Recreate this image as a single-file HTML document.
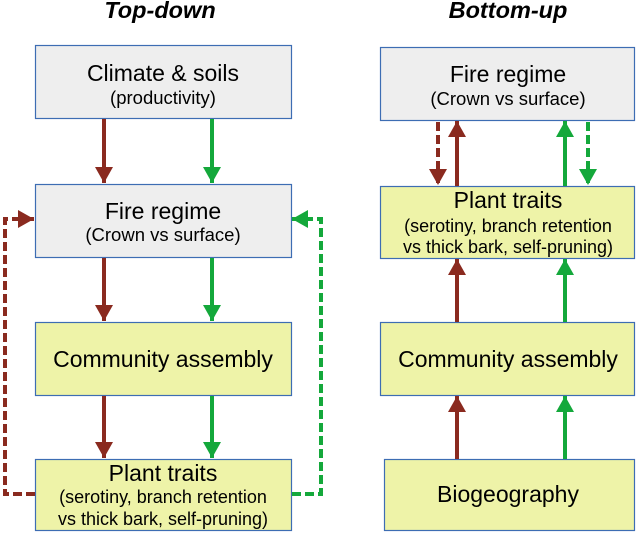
<!DOCTYPE html>
<html><head><style>
body{margin:0;background:#fff;width:640px;height:532px;overflow:hidden;font-family:"Liberation Sans",sans-serif}
</style></head><body>
<svg width="640" height="532" viewBox="0 0 640 532" xmlns="http://www.w3.org/2000/svg" font-family="Liberation Sans, sans-serif">
<defs>
<marker id="r" markerWidth="16" markerHeight="18" refX="16" refY="9" orient="auto" markerUnits="userSpaceOnUse" viewBox="0 0 16 18"><path d="M0,0 L16,9 L0,18z" fill="#8a2a1f"/></marker>
<marker id="g" markerWidth="16" markerHeight="18" refX="16" refY="9" orient="auto" markerUnits="userSpaceOnUse" viewBox="0 0 16 18"><path d="M0,0 L16,9 L0,18z" fill="#14a83b"/></marker>
</defs>
<text x="160" y="18" font-size="23.5" font-weight="bold" font-style="italic" text-anchor="middle">Top-down</text>
<text x="508" y="18" font-size="23.5" font-weight="bold" font-style="italic" text-anchor="middle">Bottom-up</text>
<g stroke="#3d6db3" stroke-width="1.2">
<rect x="35.5" y="45.5" width="256" height="73" fill="#eeeeee"/>
<rect x="35.5" y="184.5" width="256" height="73" fill="#eeeeee"/>
<rect x="35.5" y="322.5" width="256" height="73" fill="#eef3a8"/>
<rect x="35.5" y="459.5" width="256" height="71" fill="#eef3a8"/>
<rect x="380.5" y="47.5" width="254" height="73" fill="#eeeeee"/>
<rect x="380.5" y="186.5" width="254" height="72" fill="#eef3a8"/>
<rect x="380.5" y="322.5" width="254" height="73" fill="#eef3a8"/>
<rect x="384.5" y="459.5" width="250" height="71" fill="#eef3a8"/>
</g>
<g text-anchor="middle" fill="#000">
<text x="163" y="81" font-size="23">Climate &amp; soils</text>
<text x="163" y="104" font-size="18.5">(productivity)</text>
<text x="163" y="219" font-size="23">Fire regime</text>
<text x="163" y="241" font-size="18.5">(Crown vs surface)</text>
<text x="163" y="367" font-size="23">Community assembly</text>
<text x="163" y="481" font-size="23">Plant traits</text>
<text x="163" y="503" font-size="18">(serotiny, branch retention</text>
<text x="163" y="525" font-size="18">vs thick bark, self-pruning)</text>
<text x="508" y="82" font-size="23">Fire regime</text>
<text x="508" y="105" font-size="18.5">(Crown vs surface)</text>
<text x="508" y="208" font-size="23">Plant traits</text>
<text x="508" y="232" font-size="18">(serotiny, branch retention</text>
<text x="508" y="253" font-size="18">vs thick bark, self-pruning)</text>
<text x="508" y="367" font-size="23">Community assembly</text>
<text x="508" y="502" font-size="23">Biogeography</text>
</g>
<g stroke-width="4" fill="none">
<line x1="104" y1="119" x2="104" y2="183" stroke="#8a2a1f" marker-end="url(#r)"/>
<line x1="212" y1="119" x2="212" y2="183" stroke="#14a83b" marker-end="url(#g)"/>
<line x1="104" y1="258" x2="104" y2="321" stroke="#8a2a1f" marker-end="url(#r)"/>
<line x1="212" y1="258" x2="212" y2="321" stroke="#14a83b" marker-end="url(#g)"/>
<line x1="104" y1="396" x2="104" y2="458" stroke="#8a2a1f" marker-end="url(#r)"/>
<line x1="212" y1="396" x2="212" y2="458" stroke="#14a83b" marker-end="url(#g)"/>
<path d="M35,494 H5 V219 H34" stroke="#8a2a1f" stroke-dasharray="9,4" marker-end="url(#r)"/>
<path d="M292,494 H321 V219 H292" stroke="#14a83b" stroke-dasharray="9,4" marker-end="url(#g)"/>
<line x1="438" y1="122" x2="438" y2="185" stroke="#8a2a1f" stroke-dasharray="9,4" marker-end="url(#r)"/>
<line x1="457" y1="186" x2="457" y2="121" stroke="#8a2a1f" marker-end="url(#r)"/>
<line x1="565" y1="186" x2="565" y2="121" stroke="#14a83b" marker-end="url(#g)"/>
<line x1="588" y1="122" x2="588" y2="185" stroke="#14a83b" stroke-dasharray="9,4" marker-end="url(#g)"/>
<line x1="457" y1="322" x2="457" y2="259" stroke="#8a2a1f" marker-end="url(#r)"/>
<line x1="565" y1="322" x2="565" y2="259" stroke="#14a83b" marker-end="url(#g)"/>
<line x1="457" y1="459" x2="457" y2="396" stroke="#8a2a1f" marker-end="url(#r)"/>
<line x1="565" y1="459" x2="565" y2="396" stroke="#14a83b" marker-end="url(#g)"/>
</g>
</svg>
</body></html>
